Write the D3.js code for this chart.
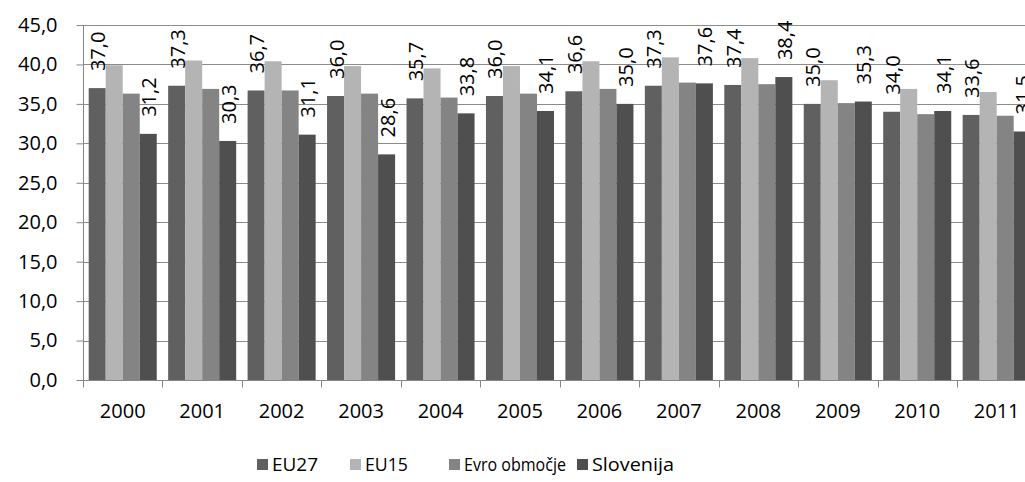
<!DOCTYPE html>
<html>
<head>
<meta charset="utf-8">
<script src="https://cdn.jsdelivr.net/npm/d3@7"></script>
<style>
  body { margin: 0; background: #fff; }
  svg text { font-family: "Open Sans", sans-serif; fill: #000; }
</style>
</head>
<body>
<div id="chart"></div>
<script>
  // Chart data
  var years = ["2000", "2001", "2002", "2003", "2004", "2005", "2006", "2007", "2008", "2009", "2010", "2011"];
  var seriesNames = ["EU27", "EU15", "Evro območje", "Slovenija"];
  var eu27 = [37.0, 37.3, 36.7, 36.0, 35.7, 36.0, 36.6, 37.3, 37.4, 35.0, 34.0, 33.6];
  var eu15 = [39.9, 40.5, 40.4, 39.8, 39.5, 39.8, 40.4, 40.9, 40.8, 38.0, 36.9, 36.5];
  var evro = [36.3, 36.9, 36.7, 36.3, 35.8, 36.3, 36.9, 37.7, 37.5, 35.1, 33.7, 33.5];
  var slovenija = [31.2, 30.3, 31.1, 28.6, 33.8, 34.1, 35.0, 37.6, 38.4, 35.3, 34.1, 31.5];
  var yTicks = [0, 5, 10, 15, 20, 25, 30, 35, 40, 45];

  var seriesValues = [eu27, eu15, evro, slovenija];
  var colors = ["#606060", "#b4b4b4", "#848484", "#4f4f4f"];
  var labelled = [true, false, false, true];

  var width = 1025, height = 482;
  var plotLeft = 83, plotTop = 25, plotBottom = 380;
  var step = 79.45;
  var fontSize = "20px";

  var svg = d3.select("#chart")
    .append("svg")
    .attr("width", width)
    .attr("height", height);

  var x0 = d3.scaleBand()
    .domain(years)
    .range([plotLeft, plotLeft + step * years.length])
    .padding(0);

  var x1 = d3.scaleBand()
    .domain(seriesNames)
    .range([5.7, step - 5.7])
    .padding(0);

  var y = d3.scaleLinear()
    .domain([0, 45])
    .range([plotBottom, plotTop]);

  var fmt = function(v) { return d3.format(".1f")(v).replace(".", ","); };

  // gridlines
  svg.append("g")
    .selectAll("line")
    .data(yTicks.slice(1))
    .enter().append("line")
    .attr("x1", plotLeft)
    .attr("x2", width)
    .attr("y1", function(d) { return Math.round(y(d)) + 0.5; })
    .attr("y2", function(d) { return Math.round(y(d)) + 0.5; })
    .attr("stroke", "#8c8c8c")
    .attr("stroke-width", 1);

  // bars
  var groups = svg.append("g")
    .selectAll("g")
    .data(years)
    .enter().append("g")
    .attr("transform", function(d) { return "translate(" + x0(d) + ",0)"; });

  groups.selectAll("rect")
    .data(function(d, i) {
      return seriesNames.map(function(s, k) { return {key: s, k: k, value: seriesValues[k][i]}; });
    })
    .enter().append("rect")
    .attr("x", function(d) { return x1(d.key); })
    .attr("width", x1.bandwidth())
    .attr("y", function(d) { return y(d.value); })
    .attr("height", function(d) { return y(0) - y(d.value); })
    .attr("fill", function(d) { return colors[d.k]; });

  // data labels (EU27 and Slovenija only)
  groups.selectAll("text")
    .data(function(d, i) {
      return seriesNames.map(function(s, k) { return {key: s, k: k, value: seriesValues[k][i]}; })
        .filter(function(d) { return labelled[d.k]; });
    })
    .enter().append("text")
    .attr("transform", function(d) {
      var cx = x1(d.key) + x1.bandwidth() / 2 + 1;
      return "translate(" + cx + "," + (y(d.value) - 17) + ") rotate(-90)";
    })
    .attr("dy", "0.35em")
    .attr("font-size", fontSize)
    .text(function(d) { return fmt(d.value); });

  // y axis
  var yAxis = d3.axisLeft(y)
    .tickValues(yTicks)
    .tickSize(7)
    .tickPadding(19)
    .tickFormat(fmt);

  var gy = svg.append("g")
    .attr("transform", "translate(" + (plotLeft + 0.5) + ",0)")
    .call(yAxis);
  gy.select(".domain").attr("stroke", "#868686").attr("d", "M0," + plotTop + "V" + (plotBottom + 0.5));
  gy.selectAll(".tick line").attr("stroke", "#868686");
  gy.selectAll(".tick text").attr("font-size", fontSize).attr("font-family", "'Open Sans', sans-serif").attr("fill", "#000");

  // x axis
  var xAxis = d3.axisBottom(x0)
    .tickSize(0)
    .tickPadding(23);

  var gx = svg.append("g")
    .attr("transform", "translate(0," + (plotBottom + 0.5) + ")")
    .call(xAxis);
  gx.select(".domain").attr("stroke", "#868686").attr("d", "M" + plotLeft + ",0H" + width);
  gx.selectAll(".tick text").attr("font-size", fontSize).attr("font-family", "'Open Sans', sans-serif").attr("fill", "#000");

  // category boundary ticks
  gx.selectAll(".boundary")
    .data(years)
    .enter().append("line")
    .attr("class", "boundary")
    .attr("x1", function(d) { return Math.round(x0(d)) + 0.5; })
    .attr("x2", function(d) { return Math.round(x0(d)) + 0.5; })
    .attr("y1", 0)
    .attr("y2", 7)
    .attr("stroke", "#868686");

  // legend
  var legendX = [257, 350, 449, 577];
  var legendW = [46, 43, 102, 82];
  var legend = svg.append("g")
    .selectAll("g")
    .data(seriesNames)
    .enter().append("g")
    .attr("transform", function(d, i) { return "translate(" + legendX[i] + ",459)"; });

  legend.append("rect")
    .attr("width", 11)
    .attr("height", 11)
    .attr("fill", function(d, i) { return colors[i]; });

  legend.append("text")
    .attr("x", 15)
    .attr("y", 5.5)
    .attr("dy", "0.35em")
    .attr("font-size", "19px")
    .attr("textLength", function(d, i) { return legendW[i]; })
    .attr("lengthAdjust", "spacingAndGlyphs")
    .text(function(d) { return d; });
</script>
</body>
</html>
